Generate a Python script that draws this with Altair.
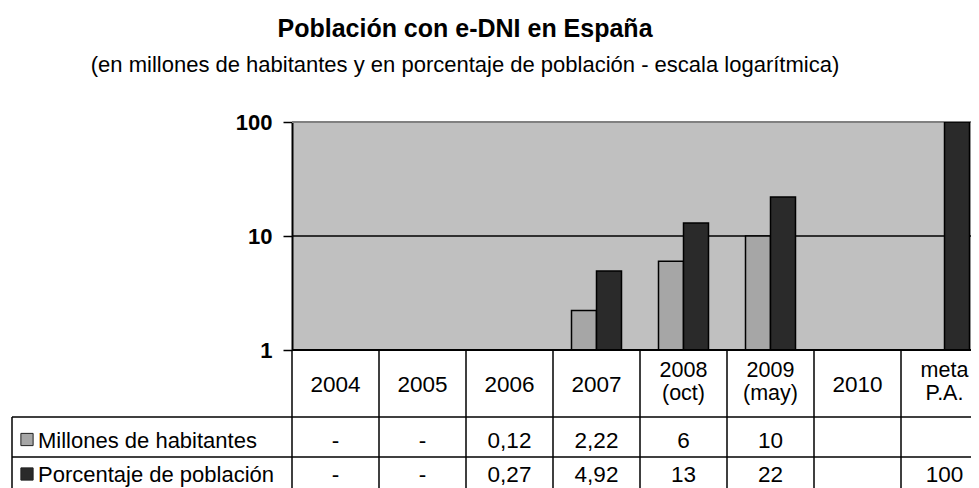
import altair as alt
import pandas as pd

# ---------------- data ----------------
categories = ["2004", "2005", "2006", "2007", "2008\n(oct)", "2009\n(may)", "2010", "meta\nP.A."]
series_names = ["Millones de habitantes", "Porcentaje de población"]
millones = [None, None, 0.12, 2.22, 6, 10, None, None]
porcentaje = [None, None, 0.27, 4.92, 13, 22, None, 100]
millones_txt = ["-", "-", "0,12", "2,22", "6", "10", "", ""]
porcentaje_txt = ["-", "-", "0,27", "4,92", "13", "22", "", "100"]
y_ticks = [1, 10, 100]
title_text = "Población con e-DNI en España"
subtitle_text = "(en millones de habitantes y en porcentaje de población - escala logarítmica)"
colors = ["#A6A6A6", "#2A2A2A"]

FONT = "Liberation Sans"
W, H = 679, 228

rows = []
for c, m, p in zip(categories, millones, porcentaje):
    if m is not None:
        rows.append({"cat": c, "serie": series_names[0], "valor": m})
    if p is not None:
        rows.append({"cat": c, "serie": series_names[1], "valor": p})
bars_df = pd.DataFrame(rows)
table_df = pd.DataFrame({"cat": categories, "m_txt": millones_txt, "p_txt": porcentaje_txt})

xscale = alt.Scale(domain=categories, range=[0, 696], paddingInner=0, paddingOuter=0)
yscale = alt.Scale(type="log", domain=[1, 100])

one = pd.DataFrame({"k": [0]})

# gridline at 10, top border at 100, bottom line at 1
grid10 = alt.Chart(pd.DataFrame({"v": [10]})).mark_rule(color="black", strokeWidth=1.5).encode(
    y=alt.Y("v:Q", scale=yscale), x=alt.value(0), x2=alt.value(W))
top100 = alt.Chart(pd.DataFrame({"v": [100]})).mark_rule(color="#808080", strokeWidth=2).encode(
    y=alt.Y("v:Q", scale=yscale), x=alt.value(0), x2=alt.value(W))

bars = alt.Chart(bars_df).mark_bar(stroke="black", strokeWidth=1.5, clip=True).encode(
    x=alt.X("cat:N", scale=xscale, axis=None),
    xOffset=alt.XOffset("serie:N", scale=alt.Scale(domain=series_names, paddingInner=0, paddingOuter=0.74)),
    y=alt.Y("valor:Q", scale=yscale,
            axis=alt.Axis(values=y_ticks, format="d", title=None, grid=False,
                          domainColor="black", domainWidth=2, tickColor="black", tickWidth=1.5,
                          tickSize=9, labelPadding=11, labelFont=FONT, labelFontSize=22,
                          labelFontWeight="bold", labelColor="black")),
    y2=alt.datum(1),
    color=alt.Color("serie:N", scale=alt.Scale(domain=series_names, range=colors), legend=None),
)

bottom1 = alt.Chart(pd.DataFrame({"v": [1]})).mark_rule(color="black", strokeWidth=2).encode(
    y=alt.Y("v:Q", scale=yscale), x=alt.value(0), x2=alt.value(W))

# table lines
vlines = alt.Chart(table_df).mark_rule(color="black", strokeWidth=1.5).encode(
    x=alt.X("cat:N", scale=xscale, bandPosition=0, axis=None),
    y=alt.value(H), y2=alt.value(H + 160))

row_lines = []
for yy in [295, 335]:
    row_lines.append(alt.Chart(one).mark_rule(color="black", strokeWidth=1.5).encode(
        x=alt.value(-280), x2=alt.value(W), y=alt.value(yy)))
row_lines.append(alt.Chart(one).mark_rule(color="black", strokeWidth=1.5).encode(
    x=alt.value(-280), y=alt.value(295), y2=alt.value(H + 160)))

# header labels: single-line ones centred in the row, two-line ones split into two texts
header_single = alt.Chart(table_df).transform_filter(
    "indexof(datum.cat, '\\n') < 0"
).mark_text(font=FONT, fontSize=22.5, baseline="middle", color="black").encode(
    x=alt.X("cat:N", scale=xscale, axis=None), y=alt.value(262.5), text="cat:N")

multi_base = alt.Chart(table_df).transform_filter(
    "indexof(datum.cat, '\\n') >= 0"
).transform_calculate(
    l1="split(datum.cat, '\\n')[0]", l2="split(datum.cat, '\\n')[1]"
)
header_l1 = multi_base.mark_text(font=FONT, fontSize=21.5, baseline="middle", color="black").encode(
    x=alt.X("cat:N", scale=xscale, axis=None), y=alt.value(249), text="l1:N")
header_l2 = multi_base.mark_text(font=FONT, fontSize=21.5, baseline="middle", color="black").encode(
    x=alt.X("cat:N", scale=xscale, axis=None), y=alt.value(272), text="l2:N")

row1 = alt.Chart(table_df).mark_text(font=FONT, fontSize=22.5, baseline="middle", color="black").encode(
    x=alt.X("cat:N", scale=xscale, axis=None), y=alt.value(318.5), text="m_txt:N")
row2 = alt.Chart(table_df).mark_text(font=FONT, fontSize=22.5, baseline="middle", color="black").encode(
    x=alt.X("cat:N", scale=xscale, axis=None), y=alt.value(353), text="p_txt:N")

legend_layers = []
for name, col, yy in zip(series_names, colors, [318.5, 353]):
    d = pd.DataFrame({"serie": [name]})
    legend_layers.append(alt.Chart(d).mark_square(size=150, fill=col, stroke="#222222", strokeWidth=1,
                                                  opacity=1).encode(
        x=alt.value(-265), y=alt.value(yy - 1)))
    legend_layers.append(alt.Chart(d).mark_text(font=FONT, fontSize=22, align="left", baseline="middle",
                                                color="black").encode(
        x=alt.value(-254), y=alt.value(yy), text="serie:N"))

title = alt.Chart(pd.DataFrame({"t": [title_text]})).mark_text(
    font=FONT, fontSize=25, fontWeight="bold", align="center", baseline="alphabetic", color="black").encode(
    x=alt.value(173), y=alt.value(-85), text="t:N")
subtitle = alt.Chart(pd.DataFrame({"t": [subtitle_text]})).mark_text(
    font=FONT, fontSize=22, align="center", baseline="alphabetic", color="black").encode(
    x=alt.value(173), y=alt.value(-50), text="t:N")

chart = alt.layer(
    grid10, top100, bars, bottom1, vlines, *row_lines, header_single, header_l1, header_l2, row1, row2,
    *legend_layers, title, subtitle
).properties(
    width=W, height=H,
    autosize=alt.AutoSizeParams(type="none"),
    padding={"left": 284, "top": 114, "right": 0, "bottom": 138},
    background="white",
).configure_view(fill="#C0C0C0", stroke=None)

chart.save("out.html", embed_options={"renderer": "svg", "actions": False})
